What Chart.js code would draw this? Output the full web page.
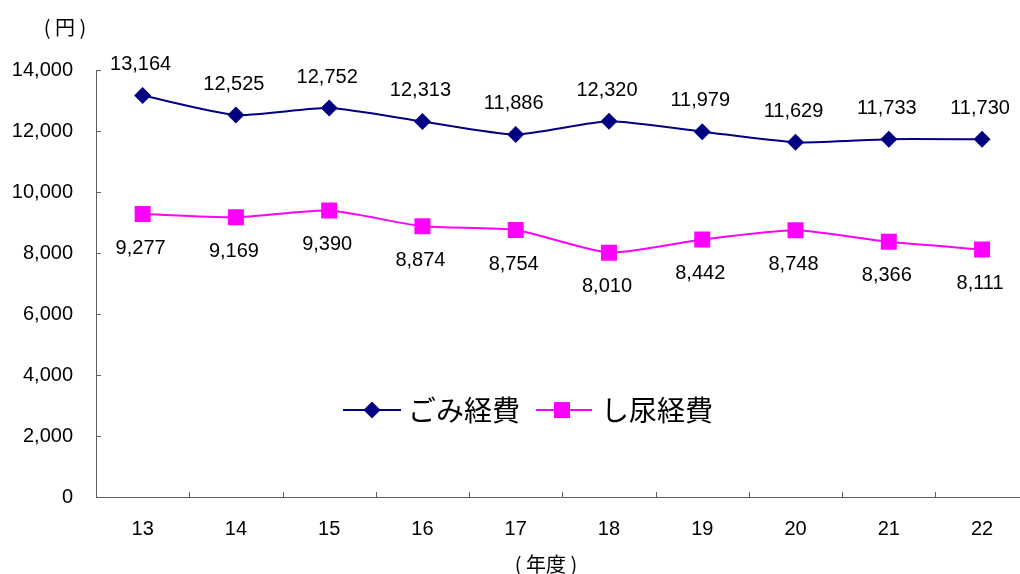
<html>
<head>
<style>
  body { margin: 0; overflow: hidden; background: #fff; }
  #wrap { width: 1040px; height: 574px; }
</style>
</head>
<body>
<div id="wrap">
  <canvas id="myChart"></canvas>
</div>
<script src="https://cdn.jsdelivr.net/npm/chart.js"></script>
<script>
const years = ['13', '14', '15', '16', '17', '18', '19', '20', '21', '22'];
const gomiCost = [13164, 12525, 12752, 12313, 11886, 12320, 11979, 11629, 11733, 11730];
const shinyoCost = [9277, 9169, 9390, 8874, 8754, 8010, 8442, 8748, 8366, 8111];
const seriesNames = ['ごみ経費', 'し尿経費'];
const yTicks = [0, 2000, 4000, 6000, 8000, 10000, 12000, 14000];

const NAVY = '#000080', PINK = '#FF00FF', AXIS = '#5f5f5f';
const numFont = '20px "Liberation Sans", Arial, sans-serif';
const jpFont = '"Noto Sans CJK JP", sans-serif';

// value labels, ticks inside the axes, legend and unit texts
const extras = {
  id: 'extras',
  afterDatasetsDraw(chart) {
    const ctx = chart.ctx;
    ctx.save();
    ctx.font = numFont;
    ctx.fillStyle = '#000';
    ctx.textAlign = 'center';
    ctx.textBaseline = 'middle';
    chart.data.datasets.forEach((ds, i) => {
      const off = i === 0 ? -31 : 34;
      chart.getDatasetMeta(i).data.forEach((pt, j) => {
        ctx.fillText(ds.data[j].toLocaleString('en-US'), pt.x - 2, pt.y + off);
      });
    });
    ctx.restore();
  },
  afterDraw(chart) {
    const ctx = chart.ctx;
    const xs = chart.scales.x, ys = chart.scales.y;
    const area = chart.chartArea;
    ctx.save();
    ctx.strokeStyle = AXIS;
    ctx.lineWidth = 1;
    ctx.beginPath();
    yTicks.forEach(v => {
      const y = Math.round(ys.getPixelForValue(v)) + 0.5;
      ctx.moveTo(area.left, y);
      ctx.lineTo(area.left + 5, y);
    });
    for (let i = 1; i < years.length; i++) {
      const x = Math.round((xs.getPixelForValue(i - 1) + xs.getPixelForValue(i)) / 2) + 0.5;
      ctx.moveTo(x, area.bottom);
      ctx.lineTo(x, area.bottom - 5);
    }
    ctx.stroke();

    // unit labels
    ctx.fillStyle = '#000';
    ctx.textAlign = 'center';
    ctx.textBaseline = 'middle';
    ctx.font = '20px ' + jpFont;
    ctx.fillText('( 円 )', 65, 27);
    ctx.fillText('( 年度 )', 546, 564);

    // legend
    const ly = ys.getPixelForValue(2850);
    ctx.lineWidth = 2;
    ctx.strokeStyle = NAVY;
    ctx.beginPath(); ctx.moveTo(343, ly); ctx.lineTo(401, ly); ctx.stroke();
    ctx.fillStyle = NAVY;
    ctx.beginPath();
    ctx.moveTo(372 - 8.5, ly); ctx.lineTo(372, ly - 8.5);
    ctx.lineTo(372 + 8.5, ly); ctx.lineTo(372, ly + 8.5);
    ctx.closePath(); ctx.fill();
    ctx.strokeStyle = PINK;
    ctx.beginPath(); ctx.moveTo(536, ly); ctx.lineTo(592, ly); ctx.stroke();
    ctx.fillStyle = PINK;
    ctx.fillRect(562 - 8, ly - 8, 16, 16);
    ctx.fillStyle = '#000';
    ctx.textAlign = 'left';
    ctx.font = '28px ' + jpFont;
    ctx.fillText(seriesNames[0], 408, ly);
    ctx.fillText(seriesNames[1], 601, ly);
    ctx.restore();
  }
};

const data = {
  labels: years,
  datasets: [{
    label: seriesNames[0],
    data: gomiCost,
    borderColor: NAVY,
    backgroundColor: NAVY,
    borderWidth: 2,
    pointStyle: 'rectRot',
    pointRadius: 8.5,
    pointBorderWidth: 0,
    tension: 0.2
  }, {
    label: seriesNames[1],
    data: shinyoCost,
    borderColor: PINK,
    backgroundColor: PINK,
    borderWidth: 2,
    pointStyle: 'rect',
    pointRadius: 11.3,
    pointBorderWidth: 0,
    tension: 0.2
  }]
};

const config = {
  type: 'line',
  data: data,
  plugins: [extras],
  options: {
    responsive: true,
    maintainAspectRatio: false,
    animation: false,
    layout: { padding: { top: 70, left: 0, right: 10, bottom: 0 } },
    plugins: {
      legend: { display: false },
      tooltip: { enabled: false }
    },
    scales: {
      x: {
        offset: true,
        grid: { display: false, drawTicks: false },
        border: { display: true, color: AXIS, width: 1 },
        ticks: { color: '#000', font: { family: '"Liberation Sans", Arial, sans-serif', size: 20 }, padding: 20, maxRotation: 0 },
        afterFit(s) { s.height = 77; }
      },
      y: {
        min: 0,
        max: 14000,
        grid: { display: false, drawTicks: false },
        border: { display: true, color: AXIS, width: 1 },
        afterBuildTicks(s) { s.ticks = yTicks.map(v => ({ value: v })); },
        ticks: {
          color: '#000',
          font: { family: '"Liberation Sans", Arial, sans-serif', size: 20 },
          padding: 23,
          callback: v => v.toLocaleString('en-US')
        },
        afterFit(s) { s.width = 96; }
      }
    }
  }
};

const myChart = new Chart(document.getElementById('myChart'), config);
</script>
</body>
</html>
